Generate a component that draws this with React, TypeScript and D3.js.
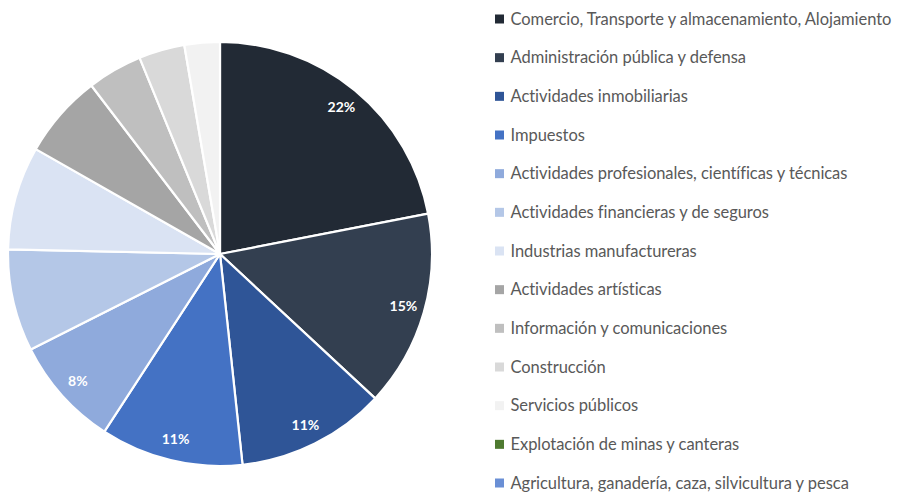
import React from "react";
import * as d3 from "d3";

const categories = [
  "Comercio, Transporte y almacenamiento, Alojamiento",
  "Administración pública y defensa",
  "Actividades inmobiliarias",
  "Impuestos",
  "Actividades profesionales, científicas y técnicas",
  "Actividades financieras y de seguros",
  "Industrias manufactureras",
  "Actividades artísticas",
  "Información y comunicaciones",
  "Construcción",
  "Servicios públicos",
  "Explotación de minas y canteras",
  "Agricultura, ganadería, caza, silvicultura y pesca",
];
const values = [22.0, 15.0, 11.4, 10.9, 8.4, 7.8, 7.9, 6.4, 4.2, 3.5, 2.7, 0, 0];
const colors = [
  "#222A35", "#333F50", "#2F5597", "#4472C4", "#8FAADC", "#B4C7E7", "#DAE3F3",
  "#A5A5A5", "#BFBFBF", "#D9D9D9", "#F2F2F2", "#4E7A30", "#6A8FD5",
];
const labelled = [true, true, true, true, true, false, false, false, false, false, false, false, false];

const W = 900;
const H = 493;
const cx = 220;
const cy = 254;
const R = 212;

export default function App() {
  const pie = d3.pie<number>().sort(null).value((d) => d)(values);
  const arc = d3.arc<d3.PieArcDatum<number>>().innerRadius(0).outerRadius(R);
  const labelArc = d3.arc<d3.PieArcDatum<number>>().innerRadius(R * 0.9).outerRadius(R * 0.9);
  const total = d3.sum(values);
  const legendY = d3.scalePoint<number>().domain(d3.range(categories.length)).range([19, 483]);

  return (
    <svg width={W} height={H} style={{ position: "absolute", left: 0, top: 0 }}>
      <rect width={W} height={H} fill="#fff" />
      <g transform={`translate(${cx},${cy})`}>
        {pie.map((p, i) =>
          p.value > 0 ? (
            <path key={i} d={arc(p) || ""} fill={colors[i]} stroke="#fff" strokeWidth={2.2} strokeLinejoin="round" />
          ) : null
        )}
        {pie.map((p, i) => {
          if (!labelled[i]) return null;
          const [x, y] = labelArc.centroid(p);
          return (
            <text key={i} x={x} y={y} dy="0.35em" textAnchor="middle" fill="#fff"
              fontFamily="Lato, 'Open Sans', sans-serif" fontWeight="bold" fontSize={14}>
              {`${Math.round((p.value / total) * 100)}%`}
            </text>
          );
        })}
      </g>
      <g>
        {categories.map((c, i) => (
          <g key={i} transform={`translate(495,${legendY(i)})`}>
            <rect x={0} y={-4.5} width={9} height={9} fill={colors[i]} />
            <text x={15.5} y={0} dy="0.35em" fill="#595959" fontFamily="Lato, sans-serif" fontSize={16.5}
              letterSpacing={-0.05}>
              {c}
            </text>
          </g>
        ))}
      </g>
    </svg>
  );
}
